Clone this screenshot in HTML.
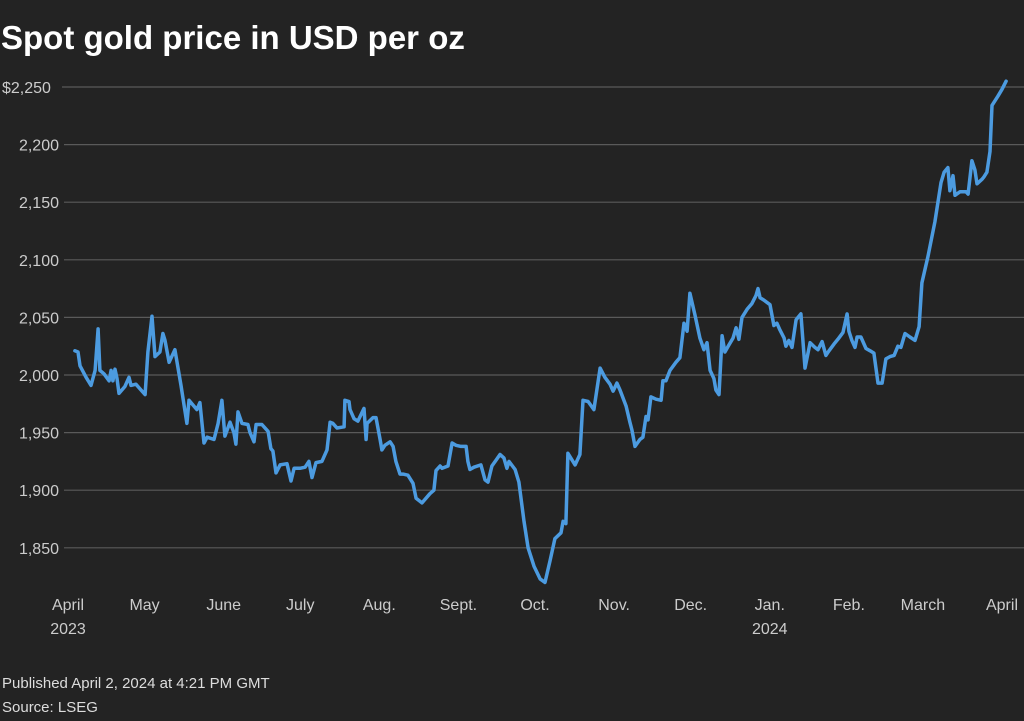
<!DOCTYPE html>
<html><head><meta charset="utf-8"><style>
html,body{margin:0;padding:0;background:#232323;}
svg{display:block;font-family:"Liberation Sans",sans-serif;}
</style></head><body>
<svg id="chart" width="1024" height="721" viewBox="0 0 1024 721">
<rect width="1024" height="721" fill="#232323"/>
<text x="1" y="49" fill="#fff" font-size="33" font-weight="bold">Spot gold price in USD per oz</text>
<g id="grid"></g>
<g id="yticks"></g>
<g id="xticks"></g>
<path id="line" fill="none" stroke="#4c9be0" stroke-width="3.5" stroke-linejoin="round" stroke-linecap="round"/>
<text x="2" y="688" fill="#ddd" font-size="15">Published April 2, 2024 at 4:21 PM GMT</text>
<text x="2" y="712" fill="#ddd" font-size="15">Source: LSEG</text>
</svg>
<script>
const yTickValues=[1850,1900,1950,2000,2050,2100,2150,2200,2250];
const monthLabels=["April","May","June","July","Aug.","Sept.","Oct.","Nov.","Dec.","Jan.","Feb.","March","April"];
const monthDays=[0,30,61,91,122,153,183,214,244,275,306,335,366];
const yearLabels=[["2023",0],["2024",275]];
const days=[2.7,3.9,4.7,7.1,9.0,10.6,11.8,12.5,14.1,16.1,16.9,17.6,18.4,19.2,20.0,22.3,23.9,24.7,26.6,28.6,30.2,31.3,32.9,34.1,36.0,37.2,38.0,39.6,41.9,44.3,46.6,47.4,49.0,50.5,51.7,53.3,54.5,57.2,58.8,60.3,61.5,63.5,65.0,65.8,66.6,68.2,70.5,71.3,72.9,73.7,76.0,78.4,79.5,80.3,81.5,83.1,85.8,87.4,88.6,90.9,92.9,94.4,95.6,97.2,99.5,101.5,102.7,103.8,105.4,108.2,108.5,110.1,110.5,112.1,113.6,116.0,116.8,117.2,119.5,120.7,122.3,123.0,124.2,126.2,127.4,128.5,130.1,131.3,133.2,135.2,136.4,138.7,141.8,143.4,144.2,145.8,146.6,148.9,150.5,152.0,154.0,156.0,156.7,157.5,159.1,161.8,163.4,164.6,166.1,167.7,169.3,170.8,172.0,172.8,175.2,176.7,178.7,180.3,182.6,185.0,186.9,188.9,190.8,193.2,194.0,195.1,195.9,198.7,200.6,201.8,203.8,206.1,208.5,210.4,212.4,213.6,215.1,216.3,218.7,220.2,221.0,222.2,224.1,225.3,226.5,227.3,228.4,230.4,232.4,233.1,234.3,235.9,238.2,239.8,241.4,242.6,243.7,245.7,247.6,249.2,250.4,251.6,253.1,253.9,255.1,256.3,257.4,259.0,260.6,261.8,262.9,264.1,266.1,268.0,269.6,270.4,271.2,272.7,275.1,276.6,277.8,279.0,280.6,281.3,282.5,283.7,285.3,287.2,288.8,290.8,292.7,293.9,295.5,297.0,298.2,300.2,301.7,303.7,305.3,306.0,307.2,308.4,309.2,310.7,312.7,314.3,315.8,317.4,319.0,320.5,322.1,323.7,325.2,326.4,328.0,329.9,331.9,333.5,334.6,337.0,339.7,342.1,343.3,344.8,345.6,346.8,347.6,349.5,351.9,352.7,354.2,355.4,356.2,358.2,358.9,360.1,361.3,362.1,364.4,366.0,367.6];
const prices=[2021,2020,2008,1998,1991,2004,2040,2004,2001,1995,2004,1995,2005,1997,1984,1990,1998,1991,1992,1987,1983,2020,2051,2016,2020,2036,2030,2011,2022,1991,1958,1978,1974,1970,1976,1941,1946,1944,1958,1978,1947,1959,1950,1940,1968,1958,1957,1950,1942,1957,1957,1951,1936,1934,1915,1922,1923,1908,1919,1919,1920,1925,1911,1924,1925,1935,1959,1958,1954,1955,1978,1977,1970,1962,1960,1971,1944,1958,1963,1963,1944,1935,1939,1942,1938,1925,1914,1914,1913,1906,1893,1889,1897,1900,1917,1921,1919,1921,1941,1939,1938,1938,1925,1918,1920,1922,1909,1907,1921,1926,1931,1928,1919,1925,1918,1907,1873,1850,1834,1823,1820,1839,1858,1863,1873,1871,1932,1922,1931,1978,1977,1970,2006,1998,1992,1986,1993,1987,1973,1959,1952,1938,1944,1946,1964,1961,1981,1979,1978,1995,1995,2004,2011,2015,2045,2038,2071,2052,2032,2022,2028,2004,1997,1987,1983,2034,2020,2026,2032,2041,2031,2050,2057,2062,2069,2075,2067,2065,2061,2043,2045,2039,2032,2025,2030,2024,2048,2053,2006,2028,2024,2022,2029,2017,2021,2027,2031,2037,2053,2038,2030,2024,2033,2033,2023,2021,2019,1993,1993,2014,2016,2017,2025,2024,2036,2033,2030,2042,2080,2103,2133,2167,2176,2180,2160,2173,2156,2159,2159,2157,2186,2178,2166,2170,2172,2176,2194,2234,2242,2248,2255];

const NS="http://www.w3.org/2000/svg";
const X=d=>68+d*(934/366);
const Y=v=>87+(2250-v)*(57.6/50);
const grid=document.getElementById('grid'),yt=document.getElementById('yticks'),xt=document.getElementById('xticks');
yTickValues.forEach((v,i)=>{
  const l=document.createElementNS(NS,'line');
  
  
  const top=v===2250;
  l.setAttribute('x1',top?62:64);l.setAttribute('x2',1024);
  l.setAttribute('y1',Y(v));l.setAttribute('y2',Y(v));
  l.setAttribute('stroke','#5a5a5a');l.setAttribute('stroke-width','1.2');
  grid.appendChild(l);
  const t=document.createElementNS(NS,'text');
  
  
  t.setAttribute('x',top?2:59);t.setAttribute('y',Y(v)+6);
  t.setAttribute('text-anchor',top?'start':'end');
  t.setAttribute('fill','#ccc');t.setAttribute('font-size','16');
  t.textContent=(top?'$':'')+v.toLocaleString('en-US');
  yt.appendChild(t);
});
monthLabels.forEach((m,i)=>{
  const t=document.createElementNS(NS,'text');
  
  
  t.setAttribute('x',X(monthDays[i]));t.setAttribute('y',610);
  t.setAttribute('text-anchor','middle');t.setAttribute('fill','#ccc');t.setAttribute('font-size','16');
  t.textContent=m;xt.appendChild(t);
});
yearLabels.forEach(([y,d])=>{
  const t=document.createElementNS(NS,'text');
  
  
  t.setAttribute('x',X(d));t.setAttribute('y',634);
  t.setAttribute('text-anchor','middle');t.setAttribute('fill','#ccc');t.setAttribute('font-size','16');
  t.textContent=y;xt.appendChild(t);
});
document.getElementById('line').setAttribute('d',days.map((d,i)=>(i?'L':'M')+X(d).toFixed(1)+','+Y(prices[i]).toFixed(1)).join(''));
</script>
</body></html>
